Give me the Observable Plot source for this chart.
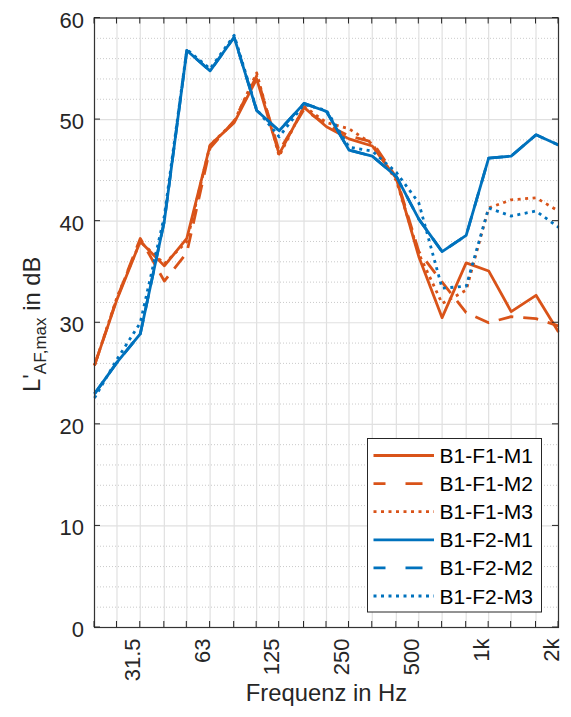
<!DOCTYPE html>
<html>
<head>
<meta charset="utf-8">
<script src="https://cdn.jsdelivr.net/npm/d3@7"></script>
<script src="https://cdn.jsdelivr.net/npm/@observablehq/plot@0.6"></script>
<style>
  body { margin: 0; background: #ffffff; }
  #chart { width: 571px; height: 717px; }
</style>
</head>
<body>
<div id="chart"></div>
<script>
// third-octave band centre frequencies (Hz)
const bands = [20, 25, 31.5, 40, 50, 63, 80, 100, 125, 160, 200, 250, 315, 400, 500, 630, 800, 1000, 1250, 1600, 2000];
// labelled x ticks
const labeledBands = [31.5, 63, 125, 250, 500, 1000, 2000];
const bandLabels = ["31.5", "63", "125", "250", "500", "1k", "2k"];
// y ticks
const yMajor = [0, 10, 20, 30, 40, 50, 60];
const yMinor = [2, 4, 6, 8, 12, 14, 16, 18, 22, 24, 26, 28, 32, 34, 36, 38, 42, 44, 46, 48, 52, 54, 56, 58];

const seriesNames = ["B1-F1-M1", "B1-F1-M2", "B1-F1-M3", "B1-F2-M1", "B1-F2-M2", "B1-F2-M3"];

// L'AF,max in dB per band
const F1M1 = [25.8, 32.3, 38.0, 35.6, 38.3, 47.5, 49.7, 54.0, 46.6, 51.2, 49.3, 48.1, 47.4, 44.2, 36.5, 30.5, 35.9, 35.1, 31.1, 32.7, 29.1];
const F1M2 = [25.8, 32.4, 38.3, 34.1, 36.9, 47.2, 49.9, 54.3, 46.9, 51.0, 49.5, 48.4, 47.8, 44.3, 37.0, 34.0, 31.0, 30.0, 30.6, 30.4, 29.7];
const F1M3 = [25.8, 32.5, 38.0, 35.8, 38.0, 47.5, 49.8, 54.6, 46.4, 51.3, 49.7, 49.1, 47.6, 44.0, 36.8, 31.9, 33.2, 41.3, 42.1, 42.3, 41.0];
const F2M1 = [23.0, 26.1, 28.9, 40.0, 56.8, 54.8, 58.1, 50.9, 48.9, 51.6, 50.8, 47.0, 46.4, 44.4, 40.2, 37.0, 38.6, 46.2, 46.4, 48.5, 47.5];
const F2M2 = [23.0, 26.1, 28.9, 40.0, 56.8, 54.8, 58.1, 50.9, 48.9, 51.6, 50.8, 47.0, 46.4, 44.4, 40.2, 37.0, 38.6, 46.2, 46.4, 48.5, 47.5];
const F2M3 = [22.6, 26.4, 30.0, 40.5, 56.9, 55.0, 58.3, 51.0, 48.3, 51.5, 50.9, 47.3, 46.9, 44.8, 41.8, 33.4, 33.6, 41.3, 40.5, 41.0, 39.4];

const seriesValues = [F1M1, F1M2, F1M3, F2M1, F2M2, F2M3];
const seriesColors = ["#D95319", "#D95319", "#D95319", "#0072BD", "#0072BD", "#0072BD"];
const seriesDash = [null, "15,10", "3,4.5", null, "15,10", "3,4.5"];

const FONT = "'Liberation Sans', Arial, Helvetica, sans-serif";
const LW = 2.8;

const series = seriesNames.map((name, s) => ({
  name,
  color: seriesColors[s],
  dash: seriesDash[s],
  data: bands.map((f, i) => ({f, v: seriesValues[s][i]}))
}));

function ticksMark(index, scales, values, dims) {
  const {x, y} = scales;
  const top = dims.marginTop, bottom = dims.height - dims.marginBottom;
  const left = dims.marginLeft, right = dims.width - dims.marginRight;
  const g = d3.create("svg:g").attr("stroke", "#262626").attr("stroke-width", 1);
  const L = 6;
  for (const f of bands) {
    const px = x(f);
    g.append("line").attr("x1", px).attr("x2", px).attr("y1", bottom).attr("y2", bottom - L);
    g.append("line").attr("x1", px).attr("x2", px).attr("y1", top).attr("y2", top + L);
  }
  for (const v of yMajor) {
    const py = y(v);
    g.append("line").attr("x1", left).attr("x2", left + L).attr("y1", py).attr("y2", py);
    g.append("line").attr("x1", right).attr("x2", right - L).attr("y1", py).attr("y2", py);
  }
  return g.node();
}

function yLabelMark(index, scales, values, dims) {
  const cy = dims.marginTop + (dims.height - dims.marginTop - dims.marginBottom) / 2;
  const t = d3.create("svg:text")
    .attr("transform", `translate(40,${cy + 2}) rotate(-90)`)
    .attr("text-anchor", "middle")
    .attr("font-family", FONT)
    .attr("font-size", 23.8)
    .attr("fill", "#262626");
  t.append("tspan").text("L'");
  t.append("tspan").attr("dy", 6).attr("font-size", 17).text("AF,max");
  t.append("tspan").attr("dy", -6).text(" in dB");
  return t.node();
}

function legendMark(index, scales, values, dims) {
  const g = d3.create("svg:g");
  const bx = 367.5, by = 438.5, bw = 174, bh = 173.5;
  g.append("rect").attr("x", bx).attr("y", by).attr("width", bw).attr("height", bh)
    .attr("fill", "#ffffff").attr("stroke", "#262626").attr("stroke-width", 1);
  series.forEach((s, k) => {
    const ry = 455.5 + k * 28.1;
    g.append("line").attr("x1", 373.5).attr("x2", 434).attr("y1", ry).attr("y2", ry)
      .attr("stroke", s.color).attr("stroke-width", LW)
      .attr("stroke-dasharray", s.dash ? (s.dash === "15,10" ? "12,20,17,20" : s.dash) : null)
      .attr("stroke-linecap", "butt");
    g.append("text").attr("x", 439.5).attr("y", ry).attr("dy", "0.36em")
      .attr("text-anchor", "start")
      .attr("font-family", FONT).attr("font-size", 21).attr("fill", "#000")
      .text(s.name);
  });
  return g.node();
}

const lineMarks = series.map(s => Plot.line(s.data, {
  x: "f", y: "v",
  stroke: s.color,
  strokeWidth: LW,
  strokeDasharray: s.dash || undefined,
  strokeLinecap: "butt",
  strokeLinejoin: "round"
}));

const chart = Plot.plot({
  width: 571,
  height: 717,
  marginLeft: 94,
  marginRight: 13,
  marginTop: 17.5,
  marginBottom: 90,
  style: {fontFamily: FONT, background: "#ffffff", color: "#262626"},
  x: {type: "log", domain: [20, 2000], axis: null},
  y: {domain: [0, 60], axis: null},
  marks: [
    Plot.ruleY(yMinor, {stroke: "#c4c4c4", strokeWidth: 0.9, strokeDasharray: "1,2"}),
    Plot.ruleX(bands, {stroke: "#e0e0e0", strokeWidth: 1.2}),
    Plot.ruleY(yMajor, {stroke: "#e0e0e0", strokeWidth: 1.2}),
    ...lineMarks,
    Plot.frame({stroke: "#333333", strokeWidth: 1.2}),
    ticksMark,
    Plot.text(yMajor, {
      frameAnchor: "left", y: d => d, text: d => String(d),
      textAnchor: "end", dx: -10.5, dy: 2.5, fontSize: 22, fill: "#262626"
    }),
    Plot.text(labeledBands, {
      frameAnchor: "bottom", x: d => d, text: (d, i) => bandLabels[i],
      rotate: -90, textAnchor: "end", dy: 11, fontSize: 22, fill: "#262626"
    }),
    Plot.text(["Frequenz in Hz"], {
      frameAnchor: "bottom", text: d => d, dy: 73, fontSize: 23.8, fill: "#262626",
      lineAnchor: "bottom"
    }),
    yLabelMark,
    legendMark
  ]
});

document.getElementById("chart").appendChild(chart);
</script>
</body>
</html>
